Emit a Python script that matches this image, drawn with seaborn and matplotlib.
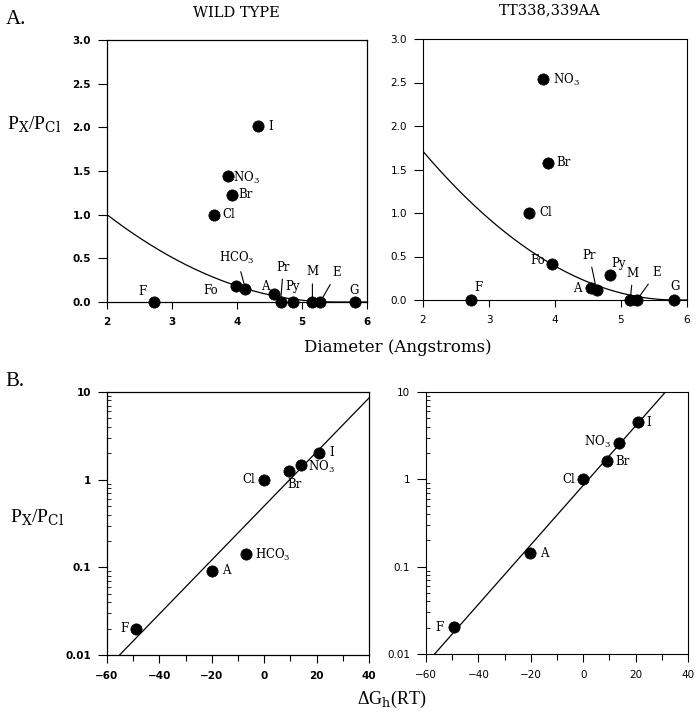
import numpy as np
import pandas as pd
import matplotlib
matplotlib.use("Agg")
import matplotlib.pyplot as plt
import matplotlib.ticker as mticker
import seaborn as sns

# ---------------- data ----------------
# A. relative permeability vs. ion diameter (Angstroms)
ions_wt_d = ["F", "Cl", "NO3", "Br", "I", "Fo", "HCO3", "A", "Pr", "Py", "M", "E", "G"]
diam_wt = [2.72, 3.64, 3.86, 3.92, 4.33, 3.98, 4.13, 4.57, 4.67, 4.86, 5.16, 5.28, 5.82]
perm_wt_d = [0.0, 1.0, 1.44, 1.23, 2.01, 0.187, 0.15, 0.095, 0.0, 0.0, 0.0, 0.0, 0.0]

ions_mut_d = ["F", "Cl", "NO3", "Br", "Fo", "A", "Pr", "Py", "M", "E", "G"]
diam_mut = [2.72, 3.61, 3.82, 3.89, 3.95, 4.55, 4.63, 4.83, 5.14, 5.24, 5.80]
perm_mut_d = [0.0, 1.0, 2.54, 1.58, 0.41, 0.134, 0.115, 0.284, 0.0, 0.0, 0.0]

# excluded-volume fit  P = k * (1 - d/pore)^2  (0 beyond the pore size)
fit_wt_k, fit_wt_pore = 2.47, 5.5
fit_mut_k, fit_mut_pore = 3.96, 5.83

# B. relative permeability vs. hydration energy dG_h (RT)
ions_wt_g = ["F", "A", "HCO3", "Cl", "Br", "NO3", "I"]
dg_wt = [-49.0, -19.9, -7.0, 0.0, 9.4, 13.9, 20.8]
perm_wt_g = [0.02, 0.092, 0.142, 1.0, 1.24, 1.46, 2.03]

ions_mut_g = ["F", "A", "Cl", "Br", "NO3", "I"]
dg_mut = [-49.3, -20.4, 0.0, 9.2, 13.7, 20.8]
perm_mut_g = [0.0202, 0.143, 1.0, 1.62, 2.58, 4.48]

# log-linear fits  log10(P) = slope * dG + intercept
fit_wt_slope, fit_wt_icpt = 0.0308, -0.30
fit_mut_slope, fit_mut_icpt = 0.03405, -0.069

titles = ["WILD TYPE", "TT338,339AA"]

# ---------------- label layout (offset points, ha) ----------------
lab_tl = {"F": (-8.4, 7.2, "center"), "Cl": (6, 0, "left"), "NO3": (4, -1, "left"),
          "Br": (5, 0, "left"), "I": (7, 0, "left"), "HCO3": (-6, 22, "center"),
          "Fo": (-17.8, -3.8, "center"), "A": (-6, 5.3, "center"), "Pr": (2, 25, "center"),
          "Py": (0, 10.8, "center"), "M": (0, 21.6, "center"), "E": (12, 20.9, "center"),
          "G": (-1, 8.4, "center")}
lead_tl = {"HCO3", "Pr", "M", "E"}
lab_tr = {"F": (5.5, 9.1, "center"), "Cl": (7.2, 0, "left"), "NO3": (7.2, -1, "left"),
          "Br": (6.5, 0, "left"), "Fo": (-10.3, 2.4, "center"), "Pr": (-5.3, 25, "center"),
          "Py": (6.2, 8.6, "center"), "A": (-10.3, 0, "center"), "M": (1.9, 19.2, "center"),
          "E": (14.2, 19.7, "center"), "G": (1, 9.6, "center")}
lead_tr = {"Pr", "M", "E"}
lab_bl = {"F": (-5.5, 0, "right"), "A": (7.2, 0, "left"), "HCO3": (6.5, -1, "left"),
          "Cl": (-6.7, 0, "right"), "Br": (4.3, -9.6, "center"), "NO3": (5.5, -1, "left"),
          "I": (7.7, 0, "left")}
lab_br = {"F": (-7.2, 0, "right"), "A": (7.2, 0, "left"), "Cl": (-6, 0, "right"),
          "Br": (6, 0, "left"), "NO3": (-15.8, 1, "center"), "I": (6.2, 0, "left")}

# ---------------- style ----------------
sns.set_style("ticks", rc={"axes.edgecolor": "black", "xtick.color": "black",
                           "ytick.color": "black", "text.color": "black",
                           "axes.labelcolor": "black"})
plt.rcParams["font.family"] = ["DejaVu Sans"]
plt.rcParams["mathtext.fontset"] = "dejavuserif"
plt.rcParams["axes.linewidth"] = 0.9

fig = plt.figure(figsize=(6.97, 7.19), dpi=100)
W, H = 697.0, 719.0


def add_ax(x0, y0, x1, y1):
    return fig.add_axes([x0 / W, 1 - y1 / H, (x1 - x0) / W, (y1 - y0) / H])


ax_tl = add_ax(107, 40, 367, 302)
ax_tr = add_ax(423, 39, 687, 300)
ax_bl = add_ax(107, 392, 369, 655)
ax_br = add_ax(426, 392, 688, 654)


def fmt_name(n):
    if n.endswith("3"):
        return n[:-1] + r"$_{\mathrm{3}}$"
    return n


def draw_points(ax, names, xs, ys, labels, leaders):
    df = pd.DataFrame({"x": xs, "y": ys, "ion": names})
    sns.scatterplot(data=df, x="x", y="y", ax=ax, color="black", s=66,
                    edgecolor="black", linewidth=0.5, legend=False, clip_on=False, zorder=5)
    for n, x, y in zip(names, xs, ys):
        dx, dy, ha = labels[n]
        kw = {}
        if n in leaders:
            kw["arrowprops"] = dict(arrowstyle="-", lw=0.8, color="black",
                                    shrinkA=1.5, shrinkB=3.5)
        ax.annotate(fmt_name(n), (x, y), xytext=(dx, dy), textcoords="offset points",
                    ha=ha, va="center", fontsize=8.5, family="DejaVu Serif",
                    annotation_clip=False, **kw)


def style_ticks(ax, bold):
    w = "bold" if bold else "normal"
    for lab in ax.get_xticklabels() + ax.get_yticklabels():
        lab.set_fontweight(w)
        lab.set_fontsize(7.5)
        lab.set_family("DejaVu Sans")
    for sp in ax.spines.values():
        sp.set_linewidth(0.9 if bold else 0.8)
        sp.set_visible(True)
    ax.set_xlabel("")
    ax.set_ylabel("")


# ---- A panels ----
x_fit = np.linspace(2, 6, 300)
for ax, names, xs, ys, k, pore, labs, leads, bold in [
        (ax_tl, ions_wt_d, diam_wt, perm_wt_d, fit_wt_k, fit_wt_pore, lab_tl, lead_tl, True),
        (ax_tr, ions_mut_d, diam_mut, perm_mut_d, fit_mut_k, fit_mut_pore, lab_tr, lead_tr, False)]:
    y_fit = k * np.clip(1 - x_fit / pore, 0, None) ** 2
    sns.lineplot(x=x_fit, y=y_fit, ax=ax, color="black", lw=0.9, zorder=3)
    draw_points(ax, names, xs, ys, labs, leads)
    ax.set_xlim(2, 6)
    ax.set_ylim(0, 3)
    ax.xaxis.set_major_locator(mticker.MultipleLocator(1))
    ax.yaxis.set_major_locator(mticker.MultipleLocator(0.5))
    ax.yaxis.set_major_formatter(mticker.FormatStrFormatter("%.1f"))
    ax.tick_params(axis="x", direction="out", length=5, width=0.8, pad=5.5)
    ax.tick_params(axis="y", direction="out", length=6.5, width=0.8, pad=5)
    style_ticks(ax, bold)

# ---- B panels ----
g_fit = np.linspace(-60, 40, 200)
for ax, names, xs, ys, sl, ic, labs, bold in [
        (ax_bl, ions_wt_g, dg_wt, perm_wt_g, fit_wt_slope, fit_wt_icpt, lab_bl, True),
        (ax_br, ions_mut_g, dg_mut, perm_mut_g, fit_mut_slope, fit_mut_icpt, lab_br, False)]:
    ax.set_yscale("log")
    sns.lineplot(x=g_fit, y=10 ** (sl * g_fit + ic), ax=ax, color="black", lw=0.9, zorder=3)
    draw_points(ax, names, xs, ys, labs, set())
    ax.set_xlim(-60, 40)
    ax.set_ylim(0.01, 10)
    ax.xaxis.set_major_locator(mticker.MultipleLocator(20))
    ax.xaxis.set_minor_locator(mticker.MultipleLocator(10))
    ax.yaxis.set_major_locator(mticker.LogLocator(base=10, numticks=10))
    ax.yaxis.set_minor_locator(mticker.LogLocator(base=10, subs=np.arange(2, 10), numticks=10))
    ax.yaxis.set_major_formatter(mticker.FuncFormatter(lambda v, _: f"{v:g}"))
    ax.yaxis.set_minor_formatter(mticker.NullFormatter())
    ax.tick_params(axis="x", which="major", direction="out", length=6, width=0.8, pad=5.5)
    ax.tick_params(axis="x", which="minor", direction="out", length=4, width=0.8)
    ax.tick_params(axis="y", which="major", direction="out", length=6.5, width=0.8, pad=5)
    ax.tick_params(axis="y", which="minor", direction="in", length=3, width=0.6)
    style_ticks(ax, bold)

# ---------------- figure texts ----------------
def ftext(x, y, s, **kw):
    fig.text(x / W, 1 - y / H, s, **kw)

ftext(6, 19, "A.", ha="left", va="center", fontsize=15, family="Liberation Serif")
ftext(5, 382, "B.", ha="left", va="center", fontsize=15, family="Liberation Serif")
ftext(236, 13, titles[0], ha="center", va="center", fontsize=10.5, family="DejaVu Serif")
ftext(550, 10, titles[1], ha="center", va="center", fontsize=10.5, family="DejaVu Serif")
ylab = r"P$_{\mathrm{X}}$/P$_{\mathrm{Cl}}$"
ftext(34, 124, ylab, ha="center", va="center", fontsize=14, family="Liberation Serif")
ftext(37, 517, ylab, ha="center", va="center", fontsize=14, family="Liberation Serif")
ftext(398, 347, "Diameter (Angstroms)", ha="center", va="center", fontsize=12,
      family="DejaVu Serif")
ftext(392, 699, r"ΔG$_{\mathrm{h}}$(RT)", ha="center", va="center", fontsize=13,
      family="Liberation Serif")

fig.savefig("out.png", dpi=100)
